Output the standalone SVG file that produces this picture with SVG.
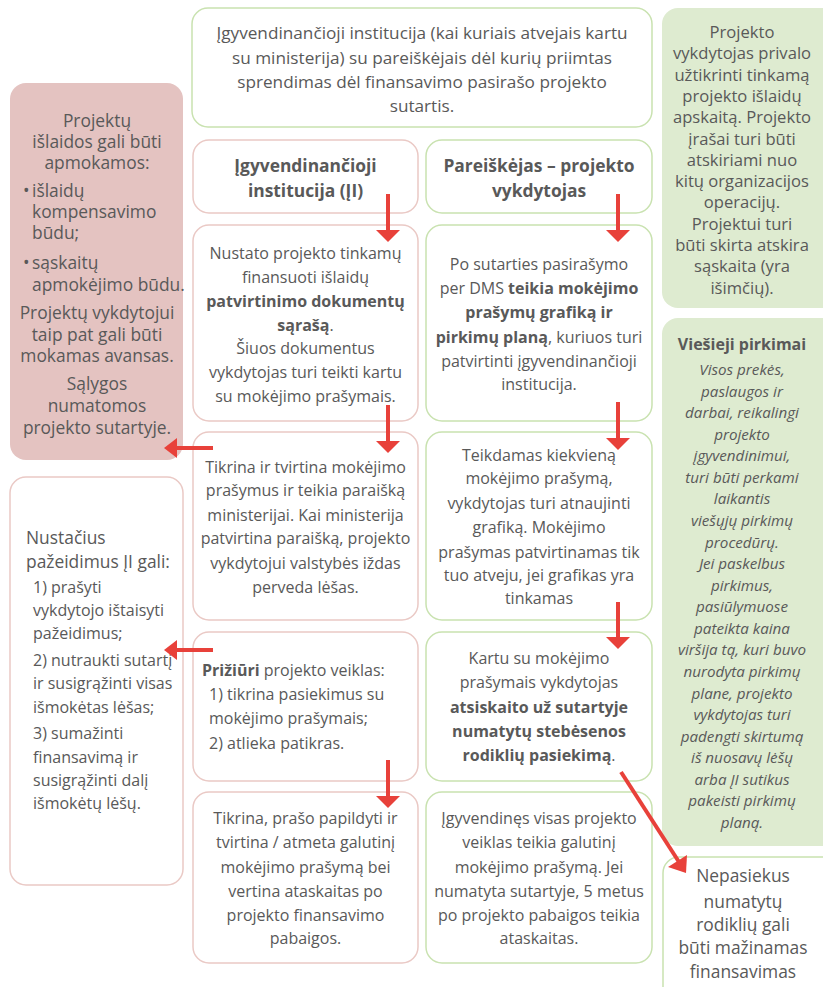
<svg xmlns="http://www.w3.org/2000/svg" width="823" height="987" viewBox="0 0 823 987">
<style>
text{font-family:"Open Sans","DejaVu Sans",sans-serif;fill:#595959;font-size:16px}
.c{text-anchor:middle}
.b{font-weight:bold}
.i{font-style:italic;font-size:15.2px}
.t{font-size:17.2px}
.hd{font-size:17.4px;font-weight:bold}
.g{fill:#fff;stroke:#c9e2b0;stroke-width:1.5}
.p{fill:#fff;stroke:#eac9c5;stroke-width:1.5}
.gf{fill:#deebd0;stroke:none}
.pf{fill:#e4c3c1;stroke:none}
.l{font-size:17.4px}
.r{font-size:16.6px}
.a{stroke:#e8413a;stroke-width:4;fill:none}
.h{fill:#e8413a}
</style>
<rect width="823" height="987" fill="#fff"/>

<g id="top">
<rect class="g" x="192" y="8" width="460" height="119" rx="16"/>
<text class="c t" x="422" y="39">Įgyvendinančioji institucija (kai kuriais atvejais kartu</text>
<text class="c t" x="422" y="63.5">su ministerija) su pareiškėjais dėl kurių priimtas</text>
<text class="c t" x="422" y="88">sprendimas dėl finansavimo pasirašo projekto</text>
<text class="c t" x="422" y="112">sutartis.</text>
</g>

<g id="hdr-ii">
<rect class="p" x="193" y="140" width="225" height="73" rx="16"/>
<text class="c hd" x="305.5" y="172">Įgyvendinančioji</text>
<text class="c hd" x="305.5" y="197">institucija (ĮI)</text>
</g>
<g id="hdr-pv">
<rect class="g" x="426" y="140" width="226" height="73" rx="16"/>
<text class="c hd" x="539" y="172">Pareiškėjas – projekto</text>
<text class="c hd" x="539" y="197">vykdytojas</text>
</g>

<g id="ii-1">
<rect class="p" x="193" y="225" width="225" height="196" rx="16"/>
<text class="c" x="305.5" y="258.5">Nustato projekto tinkamų</text>
<text class="c" x="305.5" y="282.5">finansuoti išlaidų</text>
<text class="c b" x="305.5" y="306.5">patvirtinimo dokumentų</text>
<text class="c" x="305.5" y="330.5"><tspan class="b">sąrašą</tspan>.</text>
<text class="c" x="305.5" y="353.5">Šiuos dokumentus</text>
<text class="c" x="305.5" y="377.5">vykdytojas turi teikti kartu</text>
<text class="c" x="305.5" y="401.5">su mokėjimo prašymais.</text>
</g>

<g id="pv-1">
<rect class="g" x="426" y="225" width="226" height="196" rx="16"/>
<text class="c" x="539" y="269.5">Po sutarties pasirašymo</text>
<text class="c" x="539" y="293.5">per DMS <tspan class="b">teikia mokėjimo</tspan></text>
<text class="c b" x="539" y="317.5">prašymų grafiką ir</text>
<text class="c" x="539" y="342.5"><tspan class="b">pirkimų planą</tspan>, kuriuos turi</text>
<text class="c" x="539" y="366.5">patvirtinti įgyvendinančioji</text>
<text class="c" x="539" y="389.5">institucija.</text>
</g>

<g id="ii-2">
<rect class="p" x="193" y="432" width="225" height="188" rx="16"/>
<text class="c" x="305.5" y="472.5">Tikrina ir tvirtina mokėjimo</text>
<text class="c" x="305.5" y="495.5">prašymus ir teikia paraišką</text>
<text class="c" x="305.5" y="520.5">ministerijai. Kai ministerija</text>
<text class="c" x="305.5" y="543.5">patvirtina paraišką, projekto</text>
<text class="c" x="305.5" y="568.5">vykdytojui valstybės iždas</text>
<text class="c" x="305.5" y="592.5">perveda lėšas.</text>
</g>

<g id="pv-2">
<rect class="g" x="426" y="432" width="226" height="188" rx="16"/>
<text class="c" x="539" y="460.5">Teikdamas kiekvieną</text>
<text class="c" x="539" y="483.5">mokėjimo prašymą,</text>
<text class="c" x="539" y="508.5">vykdytojas turi atnaujinti</text>
<text class="c" x="539" y="532.5">grafiką. Mokėjimo</text>
<text class="c" x="539" y="557.5">prašymas patvirtinamas tik</text>
<text class="c" x="539" y="580.5">tuo atveju, jei grafikas yra</text>
<text class="c" x="539" y="603.5">tinkamas</text>
</g>

<g id="ii-3">
<rect class="p" x="193" y="632" width="225" height="149" rx="16"/>
<text x="202" y="675.5"><tspan class="b">Prižiūri</tspan> projekto veiklas:</text>
<text x="209" y="699.5">1) tikrina pasiekimus su</text>
<text x="209" y="723.5">mokėjimo prašymais;</text>
<text x="209" y="748.5">2) atlieka patikras.</text>
</g>

<g id="pv-3">
<rect class="g" x="426" y="632" width="226" height="149" rx="16"/>
<text class="c" x="539" y="663.5">Kartu su mokėjimo</text>
<text class="c" x="539" y="687.5">prašymais vykdytojas</text>
<text class="c b" x="539" y="712.5">atsiskaito už sutartyje</text>
<text class="c b" x="539" y="736.5">numatytų stebėsenos</text>
<text class="c" x="539" y="760.5"><tspan class="b">rodiklių pasiekimą</tspan>.</text>
</g>

<g id="ii-4">
<rect class="p" x="193" y="792" width="225" height="171" rx="16"/>
<text class="c" x="305.5" y="823.5">Tikrina, prašo papildyti ir</text>
<text class="c" x="305.5" y="847.5">tvirtina / atmeta galutinį</text>
<text class="c" x="305.5" y="872.5">mokėjimo prašymą bei</text>
<text class="c" x="305.5" y="896.5">vertina ataskaitas po</text>
<text class="c" x="305.5" y="920.5">projekto finansavimo</text>
<text class="c" x="305.5" y="943.5">pabaigos.</text>
</g>

<g id="pv-4">
<rect class="g" x="426" y="792" width="226" height="171" rx="16"/>
<text class="c" x="539" y="823.5">Įgyvendinęs visas projekto</text>
<text class="c" x="539" y="847.5">veiklas teikia galutinį</text>
<text class="c" x="539" y="872.5">mokėjimo prašymą. Jei</text>
<text class="c" x="539" y="896.5">numatyta sutartyje, 5 metus</text>
<text class="c" x="539" y="920.5">po projekto pabaigos teikia</text>
<text class="c" x="539" y="943.5">ataskaitas.</text>
</g>

<g id="expenses">
<rect class="pf" x="10" y="83" width="173" height="377" rx="16"/>
<text class="c l" x="97" y="127">Projektų</text>
<text class="c l" x="97" y="148">išlaidos gali būti</text>
<text class="c l" x="97" y="169">apmokamos:</text>
<text class="l" x="23" y="197">•</text>
<text class="l" x="32" y="197">išlaidų</text>
<text class="l" x="32" y="218">kompensavimo</text>
<text class="l" x="32" y="239">būdu;</text>
<text class="l" x="23" y="269">•</text>
<text class="l" x="32" y="269">sąskaitų</text>
<text class="l" x="32" y="291">apmokėjimo būdu.</text>
<text class="c l" x="97" y="319">Projektų vykdytojui</text>
<text class="c l" x="97" y="341">taip pat gali būti</text>
<text class="c l" x="97" y="362">mokamas avansas.</text>
<text class="c l" x="97" y="390">Sąlygos</text>
<text class="c l" x="97" y="412">numatomos</text>
<text class="c l" x="97" y="434">projekto sutartyje.</text>
</g>

<g id="violations">
<rect class="p" x="10" y="477" width="173" height="408" rx="16"/>
<text class="l" x="26" y="544">Nustačius</text>
<text class="l" x="26" y="568">pažeidimus ĮI gali:</text>
<text x="33" y="593">1) prašyti</text>
<text x="33" y="616">vykdytojo ištaisyti</text>
<text x="33" y="639">pažeidimus;</text>
<text x="33" y="666">2) nutraukti sutartį</text>
<text x="33" y="689">ir susigrąžinti visas</text>
<text x="33" y="713">išmokėtas lėšas;</text>
<text x="33" y="739">3) sumažinti</text>
<text x="33" y="763">finansavimą ir</text>
<text x="33" y="786">susigrąžinti dalį</text>
<text x="33" y="809">išmokėtų lėšų.</text>
</g>

<g id="accounting">
<rect class="gf" x="662" y="8" width="175" height="300" rx="16"/>
<text class="c r" x="742" y="38">Projekto</text>
<text class="c r" x="742" y="59.3">vykdytojas privalo</text>
<text class="c r" x="742" y="80.6">užtikrinti tinkamą</text>
<text class="c r" x="742" y="101.9">projekto išlaidų</text>
<text class="c r" x="742" y="123.2">apskaitą. Projekto</text>
<text class="c r" x="742" y="144.5">įrašai turi būti</text>
<text class="c r" x="742" y="165.8">atskiriami nuo</text>
<text class="c r" x="742" y="187.1">kitų organizacijos</text>
<text class="c r" x="742" y="208.4">operacijų.</text>
<text class="c r" x="742" y="229.7">Projektui turi</text>
<text class="c r" x="742" y="251">būti skirta atskira</text>
<text class="c r" x="742" y="272.3">sąskaita (yra</text>
<text class="c r" x="742" y="293.6">išimčių).</text>
</g>

<g id="procurement">
<rect class="gf" x="662" y="318" width="175" height="528" rx="16"/>
<text class="c b" x="742" y="349.5">Viešieji pirkimai</text>
<text class="c i" x="742" y="375">Visos prekės,</text>
<text class="c i" x="742" y="396.6">paslaugos ir</text>
<text class="c i" x="742" y="418.1">darbai, reikalingi</text>
<text class="c i" x="742" y="439.7">projekto</text>
<text class="c i" x="742" y="461.3">įgyvendinimui,</text>
<text class="c i" x="742" y="482.9">turi būti perkami</text>
<text class="c i" x="742" y="504.4">laikantis</text>
<text class="c i" x="742" y="526">viešųjų pirkimų</text>
<text class="c i" x="742" y="547.6">procedūrų.</text>
<text class="c i" x="742" y="569.1">Jei paskelbus</text>
<text class="c i" x="742" y="590.7">pirkimus,</text>
<text class="c i" x="742" y="612.3">pasiūlymuose</text>
<text class="c i" x="742" y="633.9">pateikta kaina</text>
<text class="c i" x="742" y="655.4">viršija tą, kuri buvo</text>
<text class="c i" x="742" y="677">nurodyta pirkimų</text>
<text class="c i" x="742" y="698.6">plane, projekto</text>
<text class="c i" x="742" y="720.1">vykdytojas turi</text>
<text class="c i" x="742" y="741.7">padengti skirtumą</text>
<text class="c i" x="742" y="763.3">iš nuosavų lėšų</text>
<text class="c i" x="742" y="784.9">arba ĮI sutikus</text>
<text class="c i" x="742" y="806.4">pakeisti pirkimų</text>
<text class="c i" x="742" y="828">planą.</text>
</g>

<g id="reduced">
<rect class="g" x="663" y="857" width="175" height="150" rx="16"/>
<text class="c l" x="743" y="882">Nepasiekus</text>
<text class="c l" x="743" y="908">numatytų</text>
<text class="c l" x="743" y="931">rodiklių gali</text>
<text class="c l" x="743" y="954">būti mažinamas</text>
<text class="c l" x="743" y="978">finansavimas</text>
</g>

<g id="connectors">
<line class="a" x1="388" y1="194" x2="388" y2="231"/>
<polygon class="h" points="376,230 400,230 388,242"/>
<line class="a" x1="618" y1="194" x2="618" y2="231"/>
<polygon class="h" points="606,230 630,230 618,242"/>
<line class="a" x1="388" y1="405" x2="388" y2="442"/>
<polygon class="h" points="376,441 400,441 388,453"/>
<line class="a" x1="618" y1="402" x2="618" y2="439"/>
<polygon class="h" points="606,438 630,438 618,450"/>
<line class="a" x1="618" y1="602" x2="618" y2="638"/>
<polygon class="h" points="606,637 630,637 618,649"/>
<line class="a" x1="388" y1="760" x2="388" y2="797"/>
<polygon class="h" points="376,796 400,796 388,808"/>
<line class="a" x1="213" y1="448" x2="176" y2="448"/>
<polygon class="h" points="177,438 177,458 164,448"/>
<line class="a" x1="213" y1="650" x2="176" y2="650"/>
<polygon class="h" points="177,640 177,660 164,650"/>
<line class="a" x1="621" y1="772" x2="679" y2="862"/>
<polygon class="h" points="686,873 668,867 687,855"/>
</g>
</svg>
